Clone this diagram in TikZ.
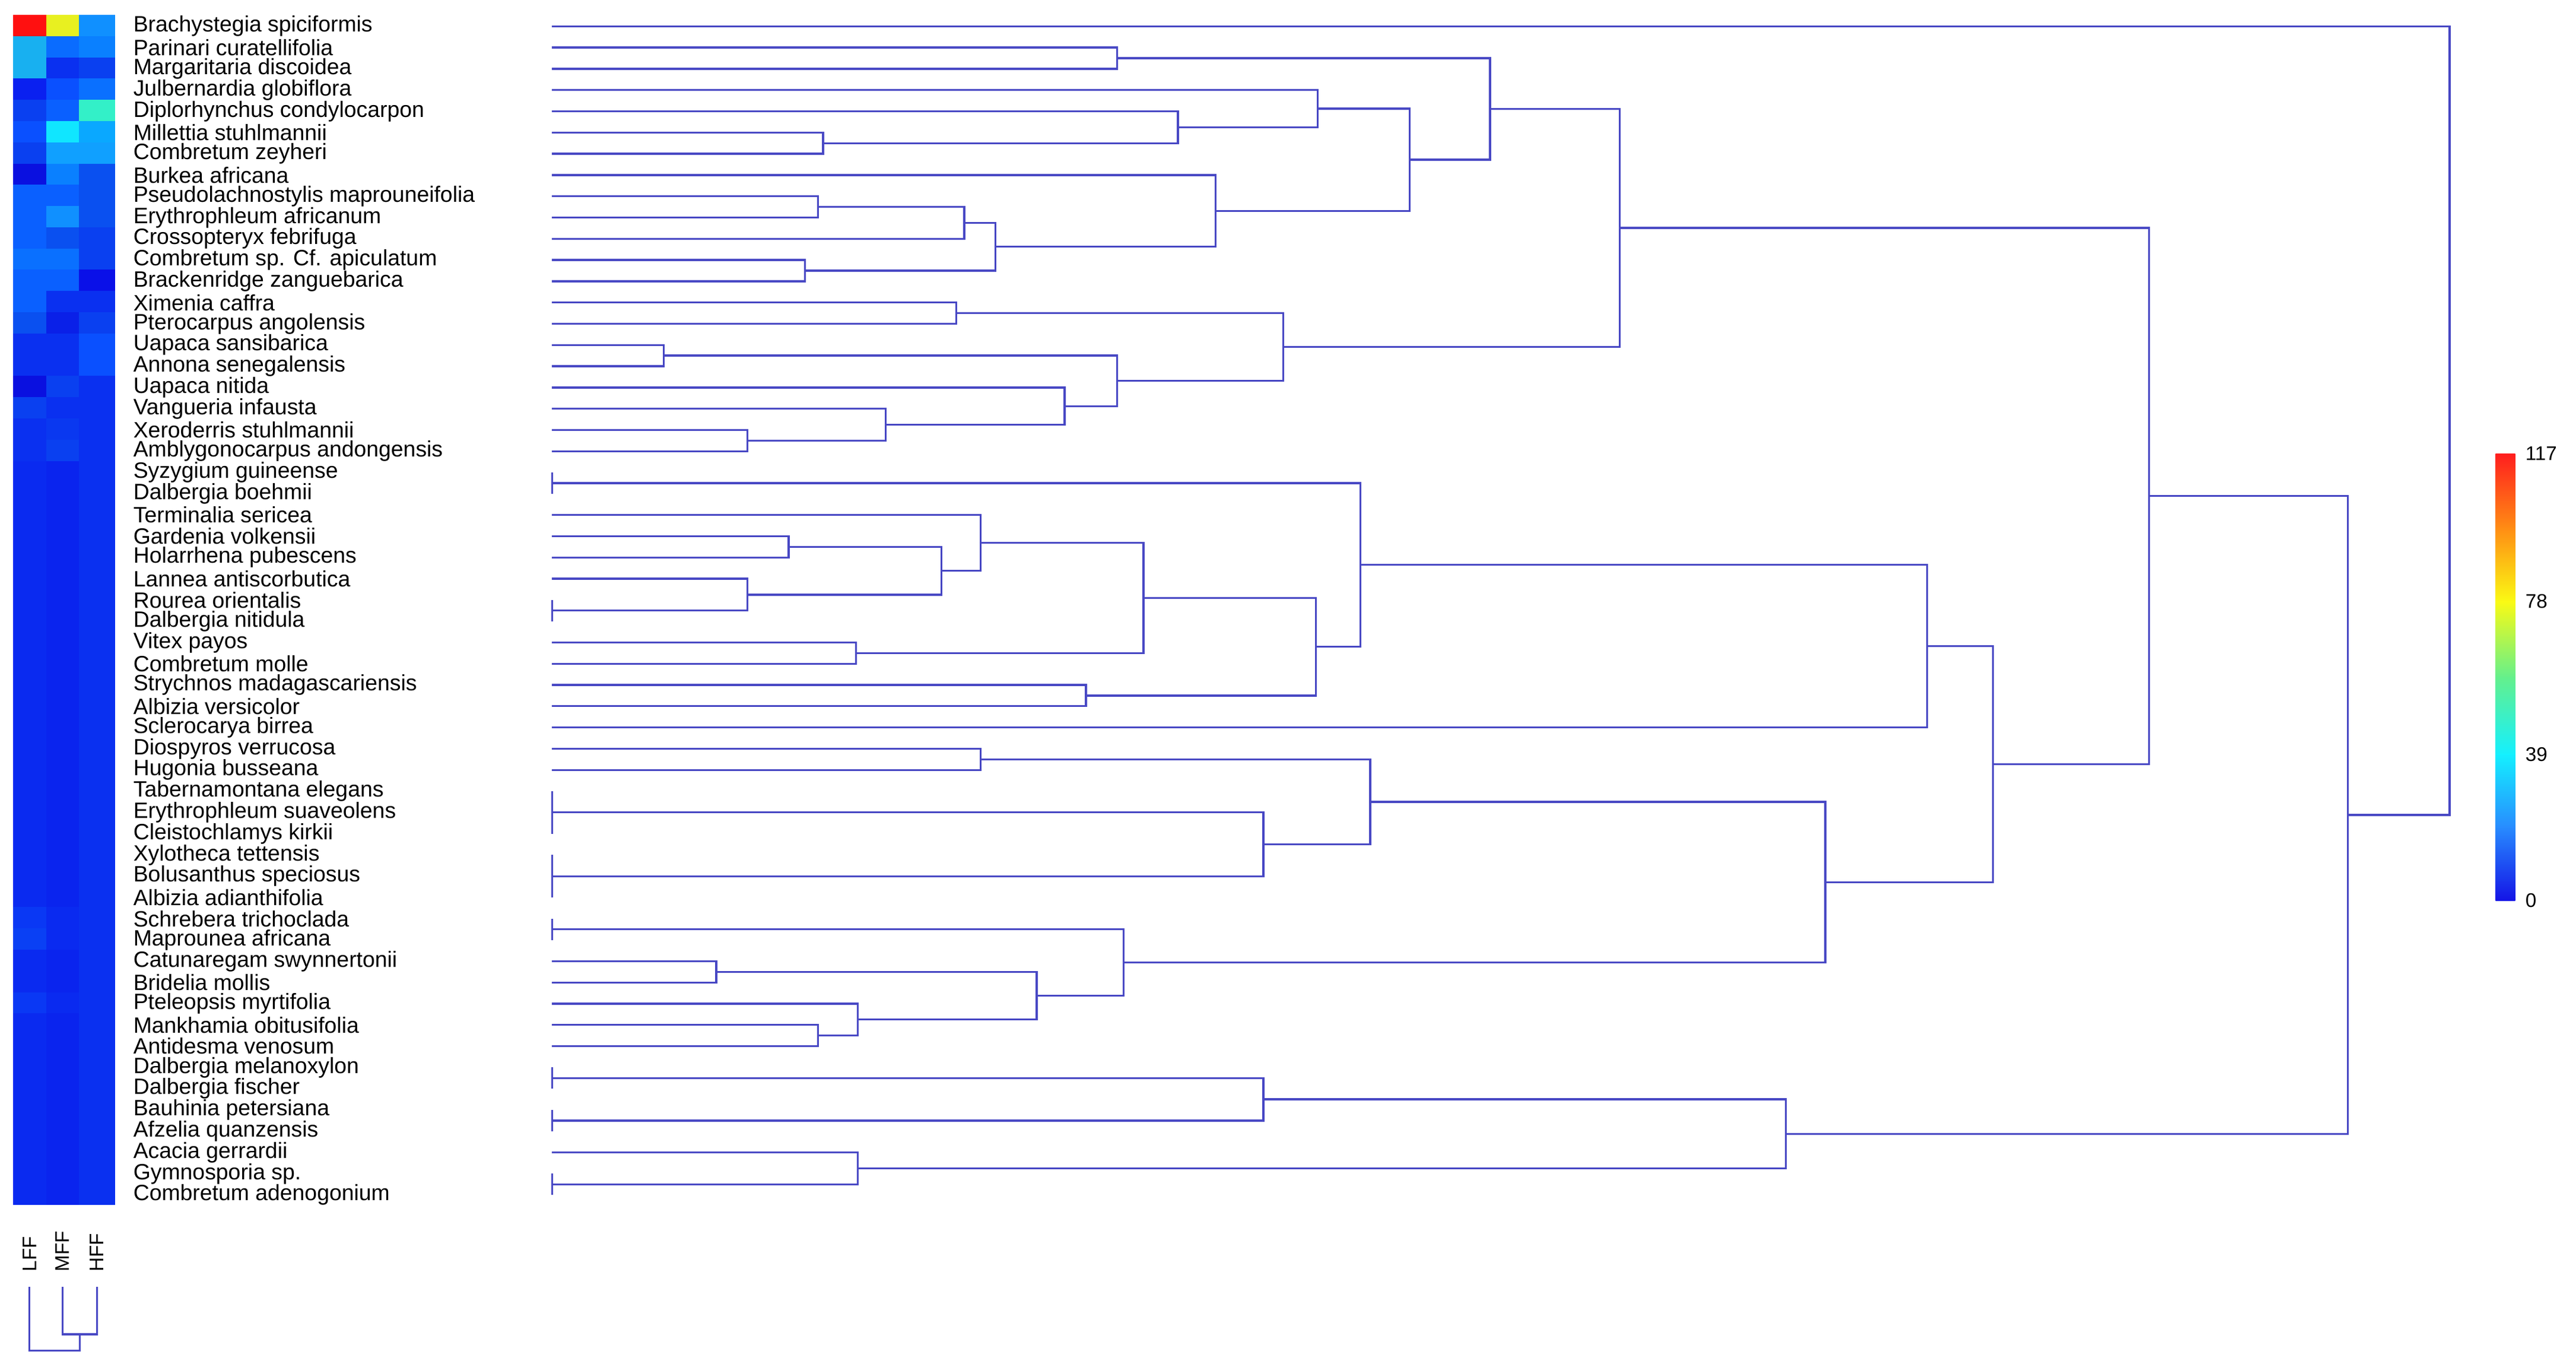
\documentclass[tikz,border=0pt]{standalone}
\usepackage{fontspec}
\setmainfont{Liberation Sans}
\usetikzlibrary{calc}
\definecolor{ln}{RGB}{72,72,196}
\definecolor{j0}{RGB}{20,20,230}
\definecolor{j1}{RGB}{40,140,255}
\definecolor{j2}{RGB}{20,240,255}
\definecolor{j3}{RGB}{100,240,140}
\definecolor{j4}{RGB}{250,250,20}
\definecolor{j5}{RGB}{255,140,20}
\definecolor{j6}{RGB}{255,30,30}
\newcommand\mrg[4]{%
  \draw[dl] let \p1=(#1),\p2=(#2) in (#1) -- (#3pt,\y1) -- (#3pt,\y2) -- (#2);
  \path let \p1=(#1),\p2=(#2) in coordinate (#4) at (#3pt,{0.5*\y1+0.5*\y2});}
\newcommand\zc[3]{%
  \draw[dl] (L#1) -- (L#2);
  \coordinate (#3) at ($(L#1)!0.5!(L#2)$);}
\newcommand\hrow[4]{%
  \definecolor{ca}{HTML}{#2}\definecolor{cb}{HTML}{#3}\definecolor{cc}{HTML}{#4}%
  \fill[ca] (8,{9+12.93*#1}) rectangle (28,{9+12.93*(#1+1)});
  \fill[cb] (28,{9+12.93*#1}) rectangle (48,{9+12.93*(#1+1)});
  \fill[cc] (48,{9+12.93*#1}) rectangle (70,{9+12.93*(#1+1)});}
\begin{document}
\begin{tikzpicture}[x=1pt,y=-1pt,
  dl/.style={draw=ln,line width=1.2pt},
  lab/.style={anchor=west,inner sep=0pt,font=\fontsize{13.5}{14}\selectfont},
  num/.style={anchor=west,inner sep=0pt,font=\fontsize{12}{13}\selectfont}]
\useasboundingbox (0,0) rectangle (1568,828);
\fill[white] (0,0) rectangle (1568,828);
% heatmap
\hrow{0}{FF1010}{E8F020}{1090FF}
\hrow{1}{18B0F0}{0A6CFF}{0A80FF}
\hrow{2}{18B0F0}{0A30F0}{0A40F0}
\hrow{3}{0A20F0}{0A50FF}{0A70FF}
\hrow{4}{0A40F0}{0A60FF}{33F0C8}
\hrow{5}{0A50FF}{10E6FF}{0AA8FF}
\hrow{6}{0A40F0}{10A0FF}{10A0FF}
\hrow{7}{0A10E0}{0A80FF}{0A50F0}
\hrow{8}{0A60FF}{0A60FF}{0A50F0}
\hrow{9}{0A60FF}{1090FF}{0A50F0}
\hrow{10}{0A60FF}{0A50F0}{0A40F0}
\hrow{11}{0A70FF}{0A70FF}{0A40F0}
\hrow{12}{0A60FF}{0A60FF}{0A10E8}
\hrow{13}{0A60FF}{0A30F0}{0A30F0}
\hrow{14}{0A50F0}{0A20E8}{0A40F0}
\hrow{15}{0A30F0}{0A30F0}{0A50FF}
\hrow{16}{0A30F0}{0A30F0}{0A50FF}
\hrow{17}{0A10E0}{0A40F0}{0A30F0}
\hrow{18}{0A40F0}{0A30F0}{0A30F0}
\hrow{19}{0A30F0}{0A38F0}{0A30F0}
\hrow{20}{0A30F0}{0A40F0}{0A30F0}
\foreach \r in {21,...,55}{\hrow{\r}{0A2AF0}{0A24EE}{0A30F0}}
\hrow{42}{0A38F4}{0A2AF0}{0A30F0}
\hrow{43}{0A40F4}{0A2AF0}{0A30F0}
\hrow{46}{0A38F4}{0A2AF0}{0A30F0}
% leaves and labels
\foreach \i/\t in {0/Brachystegia spiciformis,1/Parinari curatellifolia,2/Margaritaria discoidea,3/Julbernardia globiflora,4/Diplorhynchus condylocarpon,5/Millettia stuhlmannii,6/Combretum zeyheri,7/Burkea africana,8/Pseudolachnostylis maprouneifolia,9/Erythrophleum africanum,10/Crossopteryx febrifuga,11/Combretum sp. Cf. apiculatum,12/Brackenridge zanguebarica,13/Ximenia caffra,14/Pterocarpus angolensis,15/Uapaca sansibarica,16/Annona senegalensis,17/Uapaca nitida,18/Vangueria infausta,19/Xeroderris stuhlmannii,20/Amblygonocarpus andongensis,21/Syzygium guineense,22/Dalbergia boehmii,23/Terminalia sericea,24/Gardenia volkensii,25/Holarrhena pubescens,26/Lannea antiscorbutica,27/Rourea orientalis,28/Dalbergia nitidula,29/Vitex payos,30/Combretum molle,31/Strychnos madagascariensis,32/Albizia versicolor,33/Sclerocarya birrea,34/Diospyros verrucosa,35/Hugonia busseana,36/Tabernamontana elegans,37/Erythrophleum suaveolens,38/Cleistochlamys kirkii,39/Xylotheca tettensis,40/Bolusanthus speciosus,41/Albizia adianthifolia,42/Schrebera trichoclada,43/Maprounea africana,44/Catunaregam swynnertonii,45/Bridelia mollis,46/Pteleopsis myrtifolia,47/Mankhamia obitusifolia,48/Antidesma venosum,49/Dalbergia melanoxylon,50/Dalbergia fischer,51/Bauhinia petersiana,52/Afzelia quanzensis,53/Acacia gerrardii,54/Gymnosporia sp.,55/Combretum adenogonium}{
  \node[lab] (t\i) at (81,{16+12.93*\i}) {\t};
  \coordinate (L\i) at (336,{16+12.93*\i});
}
% dendrogram
\mrg{L1}{L2}{680}{A}
\mrg{L5}{L6}{501}{B}
\mrg{L4}{B}{717}{C}
\mrg{L3}{C}{802}{D}
\mrg{L8}{L9}{498}{E}
\mrg{E}{L10}{587}{F}
\mrg{L11}{L12}{490}{G}
\mrg{F}{G}{606}{H}
\mrg{L7}{H}{740}{I}
\mrg{D}{I}{858}{J}
\mrg{A}{J}{907}{K}
\mrg{L13}{L14}{582}{Lc}
\mrg{L15}{L16}{404}{M}
\mrg{L19}{L20}{455}{N}
\mrg{L18}{N}{539}{O}
\mrg{L17}{O}{648}{P}
\mrg{M}{P}{680}{Q}
\mrg{Lc}{Q}{781}{R}
\mrg{K}{R}{986}{S}
\zc{21}{22}{Z1}
\zc{27}{28}{Z2}
\mrg{L24}{L25}{480}{AG}
\mrg{L26}{Z2}{455}{AH}
\mrg{AG}{AH}{573}{AF}
\mrg{L23}{AF}{597}{AD}
\mrg{L29}{L30}{521}{AE}
\mrg{AD}{AE}{696}{AB}
\mrg{L31}{L32}{661}{AC}
\mrg{AB}{AC}{801}{AA}
\mrg{Z1}{AA}{828}{Zc}
\mrg{Zc}{L33}{1173}{X}
\mrg{L34}{L35}{597}{AI1}
\zc{36}{38}{Z3}
\zc{39}{41}{Z4}
\mrg{Z3}{Z4}{769}{AK}
\mrg{AI1}{AK}{834}{AI}
\zc{42}{43}{Z5}
\mrg{L44}{L45}{436}{AL1}
\mrg{L47}{L48}{498}{AN}
\mrg{L46}{AN}{522}{AM}
\mrg{AL1}{AM}{631}{AL}
\mrg{Z5}{AL}{684}{AJ}
\mrg{AI}{AJ}{1111}{Y}
\mrg{X}{Y}{1213}{W}
\mrg{S}{W}{1308}{U}
\zc{49}{50}{Z6}
\zc{51}{52}{Z7}
\mrg{Z6}{Z7}{769}{AO}
\zc{54}{55}{Z8}
\mrg{L53}{Z8}{522}{AP}
\mrg{AO}{AP}{1087}{V}
\mrg{U}{V}{1429}{T}
\mrg{L0}{T}{1491}{Root}
% column labels and column dendrogram
\node[num,rotate=90] (cL) at (18,774) {LFF};
\node[num,rotate=90] (cM) at (38,774) {MFF};
\node[num,rotate=90] (cH) at (59,774) {HFF};
\coordinate (dL) at (18,783);
\coordinate (dM) at (38,783);
\coordinate (dH) at (59,783);
\draw[dl] (dM) -- (38,812) -- (59,812) -- (dH);
\draw[dl] (dL) -- (18,822) -- (48.5,822) -- (48.5,812);
% colour bar (stacked gradients, top to bottom)
\shade[top color=j6,bottom color=j5] (1519,276) rectangle (1531,321.5);
\shade[top color=j5,bottom color=j4] (1519,321) rectangle (1531,366.5);
\shade[top color=j4,bottom color=j3] (1519,366) rectangle (1531,412.5);
\shade[top color=j3,bottom color=j2] (1519,412) rectangle (1531,459.5);
\shade[top color=j2,bottom color=j1] (1519,459) rectangle (1531,503.5);
\shade[top color=j1,bottom color=j0] (1519,503) rectangle (1531,548);
\node[num] (v117) at (1537,276) {117};
\node[num] (v78) at (1537,366) {78};
\node[num] (v39) at (1537,459) {39};
\node[num] (v0) at (1537,548) {0};
\end{tikzpicture}
\end{document}
